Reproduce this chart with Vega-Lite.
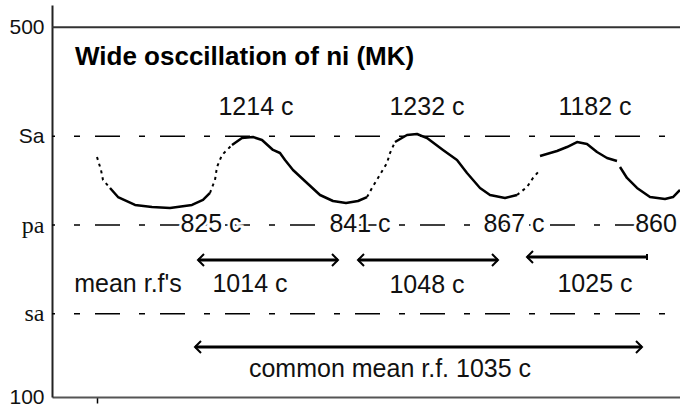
{
  "$schema": "https://vega.github.io/schema/vega-lite/v6.json",
  "width": 628,
  "height": 392,
  "autosize": {"type": "none"},
  "padding": {"left": 52, "top": 5, "right": 0, "bottom": 10},
  "background": "white",
  "config": {"view": {"stroke": null}, "font": "Liberation Sans"},
  "datasets": {
    "levels": [
      {"level": "top", "y": 500},
      {"level": "Sa", "y": 382},
      {"level": "pa", "y": 286},
      {"level": "sa", "y": 190}
    ],
    "curve": [
      {"seg": "a", "kind": "interpolated", "x": 45, "y": 359.6},
      {"seg": "a", "kind": "interpolated", "x": 49, "y": 345.5},
      {"seg": "a", "kind": "interpolated", "x": 51, "y": 334.7},
      {"seg": "a", "kind": "interpolated", "x": 58, "y": 326.1},
      {"seg": "b", "kind": "observed", "x": 58, "y": 326.1},
      {"seg": "b", "kind": "observed", "x": 66, "y": 316.3},
      {"seg": "b", "kind": "observed", "x": 83, "y": 307.7},
      {"seg": "b", "kind": "observed", "x": 100, "y": 305.5},
      {"seg": "b", "kind": "observed", "x": 118, "y": 304.4},
      {"seg": "b", "kind": "observed", "x": 140, "y": 307.7},
      {"seg": "b", "kind": "observed", "x": 151, "y": 313.1},
      {"seg": "b", "kind": "observed", "x": 158, "y": 320.7},
      {"seg": "c", "kind": "interpolated", "x": 158, "y": 320.7},
      {"seg": "c", "kind": "interpolated", "x": 161, "y": 329.3},
      {"seg": "c", "kind": "interpolated", "x": 163, "y": 334.7},
      {"seg": "c", "kind": "interpolated", "x": 165, "y": 348.8},
      {"seg": "c", "kind": "interpolated", "x": 170, "y": 361.8},
      {"seg": "c", "kind": "interpolated", "x": 180, "y": 372.6},
      {"seg": "d", "kind": "observed", "x": 180, "y": 372.6},
      {"seg": "d", "kind": "observed", "x": 190, "y": 380.1},
      {"seg": "d", "kind": "observed", "x": 201, "y": 381.2},
      {"seg": "d", "kind": "observed", "x": 210, "y": 378},
      {"seg": "d", "kind": "observed", "x": 221, "y": 367.2},
      {"seg": "d", "kind": "observed", "x": 228, "y": 363.9},
      {"seg": "d", "kind": "observed", "x": 233, "y": 356.4},
      {"seg": "d", "kind": "observed", "x": 241, "y": 345.5},
      {"seg": "d", "kind": "observed", "x": 255, "y": 331.5},
      {"seg": "d", "kind": "observed", "x": 268, "y": 318.5},
      {"seg": "d", "kind": "observed", "x": 281, "y": 312},
      {"seg": "d", "kind": "observed", "x": 294, "y": 309.8},
      {"seg": "d", "kind": "observed", "x": 306, "y": 312},
      {"seg": "d", "kind": "observed", "x": 315, "y": 316.3},
      {"seg": "e", "kind": "interpolated", "x": 315, "y": 316.3},
      {"seg": "e", "kind": "interpolated", "x": 320, "y": 326.1},
      {"seg": "e", "kind": "interpolated", "x": 326, "y": 336.9},
      {"seg": "e", "kind": "interpolated", "x": 335, "y": 353.1},
      {"seg": "e", "kind": "interpolated", "x": 338, "y": 363.9},
      {"seg": "e", "kind": "interpolated", "x": 343, "y": 375.8},
      {"seg": "f", "kind": "observed", "x": 343, "y": 375.8},
      {"seg": "f", "kind": "observed", "x": 355, "y": 383.4},
      {"seg": "f", "kind": "observed", "x": 365, "y": 384.5},
      {"seg": "f", "kind": "observed", "x": 375, "y": 380.1},
      {"seg": "f", "kind": "observed", "x": 391, "y": 367.2},
      {"seg": "f", "kind": "observed", "x": 405, "y": 356.4},
      {"seg": "f", "kind": "observed", "x": 415, "y": 342.3},
      {"seg": "f", "kind": "observed", "x": 428, "y": 326.1},
      {"seg": "f", "kind": "observed", "x": 438, "y": 318.5},
      {"seg": "f", "kind": "observed", "x": 453, "y": 315.2},
      {"seg": "f", "kind": "observed", "x": 465, "y": 318.5},
      {"seg": "g", "kind": "interpolated", "x": 465, "y": 318.5},
      {"seg": "g", "kind": "interpolated", "x": 475, "y": 327.1},
      {"seg": "g", "kind": "interpolated", "x": 481, "y": 336.9},
      {"seg": "g", "kind": "interpolated", "x": 488, "y": 345.5},
      {"seg": "h", "kind": "observed", "x": 488, "y": 360.7},
      {"seg": "h", "kind": "observed", "x": 505, "y": 366.1},
      {"seg": "h", "kind": "observed", "x": 515, "y": 370.4},
      {"seg": "h", "kind": "observed", "x": 525, "y": 375.8},
      {"seg": "h", "kind": "observed", "x": 535, "y": 373.7},
      {"seg": "h", "kind": "observed", "x": 545, "y": 365},
      {"seg": "h", "kind": "observed", "x": 555, "y": 358.5},
      {"seg": "h", "kind": "observed", "x": 565, "y": 355.3},
      {"seg": "i", "kind": "observed", "x": 568, "y": 348.8},
      {"seg": "i", "kind": "observed", "x": 575, "y": 336.9},
      {"seg": "i", "kind": "observed", "x": 585, "y": 326.1},
      {"seg": "i", "kind": "observed", "x": 598, "y": 316.3},
      {"seg": "i", "kind": "observed", "x": 613, "y": 314.2},
      {"seg": "i", "kind": "observed", "x": 621, "y": 316.3},
      {"seg": "i", "kind": "observed", "x": 628, "y": 323.9}
    ],
    "arrows": [
      {"arrow": "r1", "x": 146, "x2": 286, "y": 248.2},
      {"arrow": "r2", "x": 306, "x2": 446, "y": 248.2},
      {"arrow": "r3", "x": 475, "x2": 595, "y": 251.4},
      {"arrow": "common", "x": 143, "x2": 590, "y": 154.1}
    ],
    "heads": [
      {"arrow": "r1", "end": "left", "x": 146, "y": 248.2},
      {"arrow": "r1", "end": "right", "x": 286, "y": 248.2},
      {"arrow": "r2", "end": "left", "x": 306, "y": 248.2},
      {"arrow": "r2", "end": "right", "x": 446, "y": 248.2},
      {"arrow": "r3", "end": "left", "x": 475, "y": 251.4},
      {"arrow": "r3", "end": "stop", "x": 595, "y": 251.4},
      {"arrow": "common", "end": "left", "x": 143, "y": 154.1},
      {"arrow": "common", "end": "right", "x": 590, "y": 154.1}
    ],
    "labels": [
      {"role": "title", "x": 23, "y": 459, "text": "Wide osccillation of ni (MK)"},
      {"role": "peak", "x": 204, "y": 405, "text": "1214 c"},
      {"role": "peak", "x": 375, "y": 405, "text": "1232 c"},
      {"role": "peak", "x": 543, "y": 405, "text": "1182 c"},
      {"role": "trough", "x": 159, "y": 278.5, "text": "825 c"},
      {"role": "trough", "x": 308, "y": 278.5, "text": "841 c"},
      {"role": "trough", "x": 462, "y": 278.5, "text": "867 c"},
      {"role": "trough", "x": 604, "y": 278.5, "text": "860"},
      {"role": "rf", "x": 76, "y": 214, "text": "mean r.f's"},
      {"role": "rf", "x": 198, "y": 214, "text": "1014 c"},
      {"role": "rf", "x": 375, "y": 213, "text": "1048 c"},
      {"role": "rf", "x": 543, "y": 214, "text": "1025 c"},
      {"role": "common", "x": 338, "y": 121.6, "text": "common mean r.f. 1035 c"}
    ]
  },
  "layer": [
    {
      "data": {"name": "curve"},
      "transform": [{"filter": "datum.kind == 'observed'"}],
      "mark": {"type": "line", "color": "black", "strokeWidth": 2.5, "strokeJoin": "round"},
      "encoding": {
        "x": {
          "field": "x", "type": "quantitative",
          "scale": {"domain": [0, 628], "nice": false, "zero": false},
          "axis": {"values": [45], "labels": false, "title": null, "grid": false, "ticks": true, "tickSize": 6, "tickColor": "black", "tickWidth": 1.5, "domain": true, "domainColor": "#555", "domainWidth": 2}
        },
        "y": {
          "field": "y", "type": "quantitative",
          "scale": {"domain": [100, 524], "nice": false, "zero": false},
          "axis": {
            "values": [100, 190, 286, 382, 500],
            "labelExpr": "datum.value == 500 ? '500' : datum.value == 382 ? 'Sa' : datum.value == 286 ? 'pa' : datum.value == 190 ? 'sa' : '100'",
            "title": null, "grid": false, "ticks": false, "labels": true, "domain": true, "labelPadding": 8,
            "domainColor": "#222", "domainWidth": 2, "labelColor": "#111",
            "labelFont": {"condition": {"test": "datum.value == 286 || datum.value == 190", "value": "Liberation Serif"}, "value": "Liberation Sans"},
            "labelFontSize": {"condition": {"test": "datum.value == 286 || datum.value == 190", "value": 24}, "value": 21}
          }
        },
        "detail": {"field": "seg"}
      }
    },
    {
      "data": {"name": "curve"},
      "transform": [{"filter": "datum.kind == 'interpolated'"}],
      "mark": {"type": "line", "color": "black", "strokeWidth": 2, "strokeDash": [3, 4]},
      "encoding": {
        "x": {"field": "x", "type": "quantitative", "scale": {"domain": [0, 628], "nice": false, "zero": false}},
        "y": {"field": "y", "type": "quantitative", "scale": {"domain": [100, 524], "nice": false, "zero": false}},
        "detail": {"field": "seg"}
      }
    },
    {
      "data": {"name": "levels"},
      "transform": [{"filter": "datum.level == 'top'"}],
      "mark": {"type": "rule", "color": "#333", "strokeWidth": 2},
      "encoding": {
        "y": {"field": "y", "type": "quantitative", "scale": {"domain": [100, 524], "nice": false, "zero": false}}
      }
    },
    {
      "data": {"name": "levels"},
      "transform": [{"filter": "datum.level != 'top'"}],
      "mark": {"type": "rule", "color": "black", "strokeWidth": 1.5, "strokeDash": [25, 15, 6, 19], "strokeDashOffset": 25},
      "encoding": {
        "y": {"field": "y", "type": "quantitative", "scale": {"domain": [100, 524], "nice": false, "zero": false}}
      }
    },
    {
      "data": {"name": "arrows"},
      "mark": {"type": "rule", "color": "black", "strokeWidth": 3},
      "encoding": {
        "x": {"field": "x", "type": "quantitative", "scale": {"domain": [0, 628], "nice": false, "zero": false}},
        "x2": {"field": "x2"},
        "y": {"field": "y", "type": "quantitative", "scale": {"domain": [100, 524], "nice": false, "zero": false}}
      }
    },
    {
      "data": {"name": "heads"},
      "mark": {"type": "point", "filled": false, "stroke": "black", "strokeWidth": 2, "size": 144, "opacity": 1},
      "encoding": {
        "x": {"field": "x", "type": "quantitative", "scale": {"domain": [0, 628], "nice": false, "zero": false}},
        "y": {"field": "y", "type": "quantitative", "scale": {"domain": [100, 524], "nice": false, "zero": false}},
        "shape": {"field": "end", "type": "nominal", "scale": {"domain": ["left", "right", "stop"], "range": ["M1,-1L0,0L1,1", "M-1,-1L0,0L-1,1", "M0,-0.5L0,0.5"]}, "legend": null}
      }
    },
    {
      "data": {"name": "labels"},
      "transform": [{"filter": "datum.role == 'title'"}],
      "mark": {"type": "text", "align": "left", "baseline": "alphabetic", "fontSize": 26, "fontWeight": "bold", "color": "black"},
      "encoding": {
        "x": {"field": "x", "type": "quantitative", "scale": {"domain": [0, 628], "nice": false, "zero": false}},
        "y": {"field": "y", "type": "quantitative", "scale": {"domain": [100, 524], "nice": false, "zero": false}},
        "text": {"field": "text"}
      }
    },
    {
      "data": {"name": "labels"},
      "transform": [{"filter": "datum.role == 'trough'"}],
      "mark": {"type": "text", "align": "center", "baseline": "alphabetic", "fontSize": 25, "stroke": "white", "strokeWidth": 5, "color": "white"},
      "encoding": {
        "x": {"field": "x", "type": "quantitative", "scale": {"domain": [0, 628], "nice": false, "zero": false}},
        "y": {"field": "y", "type": "quantitative", "scale": {"domain": [100, 524], "nice": false, "zero": false}},
        "text": {"field": "text"}
      }
    },
    {
      "data": {"name": "labels"},
      "transform": [{"filter": "datum.role != 'title'"}],
      "mark": {"type": "text", "align": "center", "baseline": "alphabetic", "fontSize": 25, "color": "#111"},
      "encoding": {
        "x": {"field": "x", "type": "quantitative", "scale": {"domain": [0, 628], "nice": false, "zero": false}},
        "y": {"field": "y", "type": "quantitative", "scale": {"domain": [100, 524], "nice": false, "zero": false}},
        "text": {"field": "text"}
      }
    }
  ]
}
